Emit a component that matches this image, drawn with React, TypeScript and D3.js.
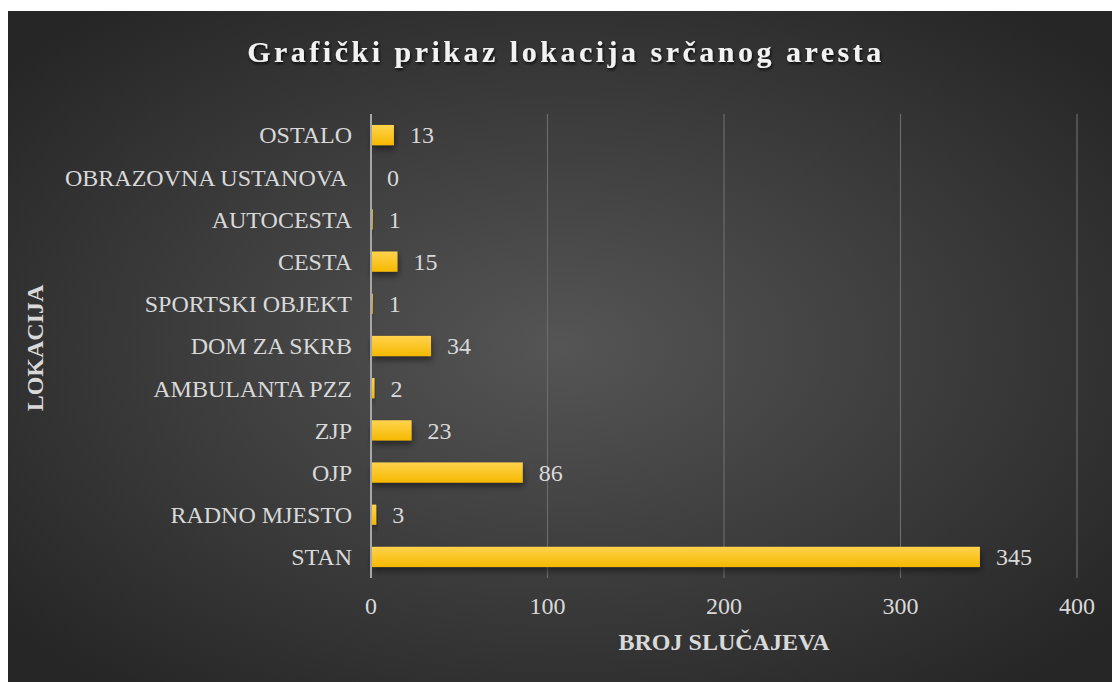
import React, { useEffect, useRef } from 'react';
import * as d3 from 'd3';

const locations = [
  'OSTALO',
  'OBRAZOVNA USTANOVA ',
  'AUTOCESTA',
  'CESTA',
  'SPORTSKI OBJEKT',
  'DOM ZA SKRB',
  'AMBULANTA PZZ',
  'ZJP',
  'OJP',
  'RADNO MJESTO',
  'STAN',
];
const cases = [13, 0, 1, 15, 1, 34, 2, 23, 86, 3, 345];
const xTicks = [0, 100, 200, 300, 400];

const W = 1112;
const H = 682;

function App() {
  const ref = useRef<SVGSVGElement>(null);

  useEffect(() => {
    const svg = d3.select(ref.current);
    svg.selectAll('*').remove();

    const defs = svg.append('defs');
    const bg = defs.append('radialGradient').attr('id', 'bg')
      .attr('cx', '50%').attr('cy', '50%').attr('r', '65%');
    bg.append('stop').attr('offset', '0%').attr('stop-color', '#555555');
    bg.append('stop').attr('offset', '100%').attr('stop-color', '#262626');

    const barG = defs.append('linearGradient').attr('id', 'bar')
      .attr('x1', 0).attr('y1', 0).attr('x2', 0).attr('y2', 1);
    barG.append('stop').attr('offset', '0%').attr('stop-color', '#ffd34d');
    barG.append('stop').attr('offset', '100%').attr('stop-color', '#f5b800');

    const shadow = defs.append('filter').attr('id', 'shadow')
      .attr('x', '-20%').attr('y', '-50%').attr('width', '140%').attr('height', '250%');
    shadow.append('feDropShadow').attr('dx', 1).attr('dy', 4).attr('stdDeviation', 3)
      .attr('flood-color', '#000').attr('flood-opacity', 0.45);

    const tshadow = defs.append('filter').attr('id', 'tshadow');
    tshadow.append('feDropShadow').attr('dx', 1).attr('dy', 2).attr('stdDeviation', 1.5)
      .attr('flood-color', '#000').attr('flood-opacity', 0.8);

    svg.append('rect').attr('x', 8).attr('y', 11).attr('width', W - 8).attr('height', H - 11)
      .attr('fill', 'url(#bg)');

    const left = 371, right = 1077, top = 114, bottom = 578;
    const x = d3.scaleLinear().domain([0, 400]).range([left, right]);
    const y = d3.scaleBand().domain(locations).range([top, bottom]).paddingInner(0.52).paddingOuter(0.26);

    const font = '"Liberation Serif", "Times New Roman", serif';
    const fs = 24;

    // gridlines
    svg.append('g').selectAll('line').data(xTicks.slice(1)).join('line')
      .attr('x1', d => x(d)).attr('x2', d => x(d))
      .attr('y1', top).attr('y2', bottom)
      .attr('stroke', '#6b6b6b').attr('stroke-width', 1.2);

    // bars
    svg.append('g').selectAll('rect').data(cases).join('rect')
      .attr('x', x(0))
      .attr('y', (_, i) => y(locations[i])!)
      .attr('width', d => x(d) - x(0))
      .attr('height', y.bandwidth())
      .attr('fill', 'url(#bar)')
      .attr('filter', 'url(#shadow)');

    // zero axis line
    svg.append('line').attr('x1', x(0)).attr('x2', x(0)).attr('y1', top).attr('y2', bottom)
      .attr('stroke', '#a6a6a6').attr('stroke-width', 2);

    // value labels
    svg.append('g').selectAll('text').data(cases).join('text')
      .attr('x', d => x(d) + 16)
      .attr('y', (_, i) => y(locations[i])! + y.bandwidth() / 2)
      .attr('dy', '0.35em')
      .attr('font-family', font).attr('font-size', fs).attr('fill', '#d9d9d9')
      .text(d => d);

    // category labels
    svg.append('g').selectAll('text').data(locations).join('text')
      .attr('x', 352)
      .attr('y', d => y(d)! + y.bandwidth() / 2)
      .attr('dy', '0.35em')
      .attr('text-anchor', 'end')
      .attr('xml:space', 'preserve')
      .style('white-space', 'pre')
      .attr('font-family', font).attr('font-size', fs).attr('fill', '#d9d9d9')
      .text(d => d);

    // x tick labels
    svg.append('g').selectAll('text').data(xTicks).join('text')
      .attr('x', d => x(d)).attr('y', 614)
      .attr('text-anchor', 'middle')
      .attr('font-family', font).attr('font-size', fs).attr('fill', '#d9d9d9')
      .text(d => d);

    // title
    svg.append('text').attr('x', 566).attr('y', 62).attr('text-anchor', 'middle')
      .attr('font-family', font).attr('font-size', 30).attr('font-weight', 'bold')
      .attr('letter-spacing', 3.5).attr('fill', '#f2f2f2').attr('filter', 'url(#tshadow)')
      .text('Grafički prikaz lokacija srčanog aresta');

    svg.append('text').attr('x', 724).attr('y', 650).attr('text-anchor', 'middle')
      .attr('font-family', font).attr('font-size', fs).attr('font-weight', 'bold')
      .attr('fill', '#d9d9d9')
      .text('BROJ SLUČAJEVA');

    svg.append('text').attr('transform', 'translate(43,348) rotate(-90)').attr('text-anchor', 'middle')
      .attr('font-family', font).attr('font-size', fs).attr('font-weight', 'bold')
      .attr('fill', '#d9d9d9')
      .text('LOKACIJA');
  }, []);

  return (
    <svg ref={ref} width={W} height={H} style={{ position: 'absolute', left: 0, top: 0 }} />
  );
}

export default App;
